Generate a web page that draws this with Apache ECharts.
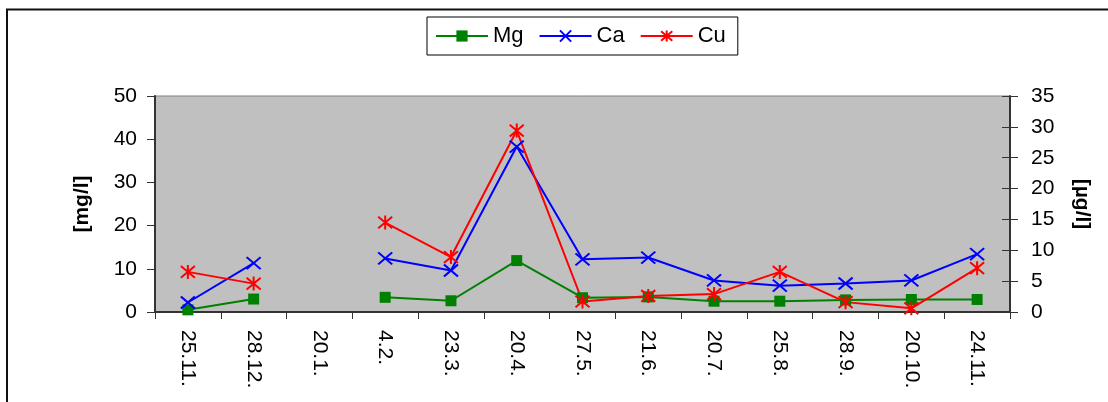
<!DOCTYPE html>
<html>
<head>
<meta charset="utf-8">
<script src="https://cdn.jsdelivr.net/npm/echarts@6/dist/echarts.min.js"></script>
<style>html,body{margin:0;padding:0;background:#fff}#c{width:1108px;height:402px}</style>
</head>
<body>
<div id="c"></div>
<script>
const categories = ['25.11.', '28.12.', '20.1.', '4.2.', '23.3.', '20.4.', '27.5.', '21.6.', '20.7.', '25.8.', '28.9.', '20.10.', '24.11.'];
const mg = [0.5, 3.0, null, 3.4, 2.6, 11.9, 3.3, 3.5, 2.5, 2.5, 2.8, 2.9, 2.9];
const ca = [2.2, 11.3, null, 12.4, 9.6, 38.3, 12.2, 12.6, 7.3, 6.1, 6.6, 7.3, 13.4];
const cu = [6.5, 4.6, null, 14.5, 8.9, 29.4, 1.7, 2.6, 2.9, 6.5, 1.6, 0.6, 7.1];
const leftTicks = {min: 0, max: 50, interval: 10};
const rightTicks = {min: 0, max: 35, interval: 5};

const FONT = 'Liberation Sans, Arial, sans-serif';
const xPath = 'path://M0,0L12,10M12,0L0,10';
const starPath = 'path://M0,1L12,11M12,1L0,11M6,0L6,12';
const chart = echarts.init(document.getElementById('c'), null, {renderer: 'canvas'});
chart.setOption({
  animation: false,
  backgroundColor: '#fff',
  textStyle: {fontFamily: FONT},
  graphic: [{
    type: 'rect', silent: true, z: -1,
    shape: {x: 7, y: 9.5, width: 1200, height: 500},
    style: {fill: 'none', stroke: '#111', lineWidth: 2}
  }],
  legend: {
    left: 427, top: 17,
    padding: [8, 12, 8, 8],
    itemWidth: 52, itemHeight: 14, itemGap: 15,
    borderColor: '#000', borderWidth: 1, backgroundColor: '#fff',
    textStyle: {fontSize: 22, color: '#000', fontFamily: FONT},
    data: ['Mg', 'Ca', 'Cu']
  },
  grid: {
    left: 155, right: 98, top: 96, bottom: 90,
    show: true, backgroundColor: '#c0c0c0', borderColor: '#808080', borderWidth: 1
  },
  xAxis: {
    type: 'category', data: categories, boundaryGap: true,
    axisLine: {lineStyle: {color: '#333', width: 2}},
    axisTick: {show: true, length: 7, alignWithLabel: false, lineStyle: {color: '#333', width: 1}},
    axisLabel: {rotate: -90, margin: 18, fontSize: 21, color: '#000', fontFamily: FONT, interval: 0},
    splitLine: {show: false}
  },
  yAxis: [{
    type: 'value', position: 'left',
    min: leftTicks.min, max: leftTicks.max, interval: leftTicks.interval,
    name: '[mg/l]', nameLocation: 'middle', nameGap: 62,
    nameTextStyle: {fontSize: 21, fontWeight: 'bold', color: '#000', fontFamily: FONT},
    axisLine: {show: true, lineStyle: {color: '#333', width: 2}},
    axisTick: {show: true, length: 8, lineStyle: {color: '#333'}},
    axisLabel: {margin: 18, fontSize: 21, color: '#000', fontFamily: FONT},
    splitLine: {show: false}
  }, {
    type: 'value', position: 'right',
    min: rightTicks.min, max: rightTicks.max, interval: rightTicks.interval,
    name: '[µg/l]', nameLocation: 'middle', nameGap: 61, nameRotate: -90,
    nameTextStyle: {fontSize: 21, fontWeight: 'bold', color: '#000', fontFamily: FONT},
    axisLine: {show: true, lineStyle: {color: '#333', width: 2}},
    axisTick: {show: true, length: 8, lineStyle: {color: '#333'}},
    axisLabel: {margin: 21, fontSize: 21, color: '#000', fontFamily: FONT},
    splitLine: {show: false}
  }, {
    type: 'value', position: 'right',
    min: rightTicks.min, max: rightTicks.max, interval: rightTicks.interval,
    axisLine: {show: false},
    axisTick: {show: true, inside: true, length: 8, lineStyle: {color: '#333'}},
    axisLabel: {show: false},
    splitLine: {show: false}
  }],
  series: [{
    name: 'Mg', type: 'line', yAxisIndex: 0, data: mg, connectNulls: false,
    symbol: 'rect', symbolSize: 11, showAllSymbol: true,
    lineStyle: {color: '#008000', width: 2},
    itemStyle: {color: '#008000'}
  }, {
    name: 'Ca', type: 'line', yAxisIndex: 0, data: ca, connectNulls: false,
    symbol: xPath, symbolSize: [14, 12], showAllSymbol: true,
    lineStyle: {color: '#0000ff', width: 2},
    itemStyle: {color: '#0000ff', borderColor: '#0000ff', borderWidth: 2}
  }, {
    name: 'Cu', type: 'line', yAxisIndex: 1, data: cu, connectNulls: false,
    symbol: starPath, symbolSize: 14, showAllSymbol: true,
    lineStyle: {color: '#ff0000', width: 2},
    itemStyle: {color: '#ff0000', borderColor: '#ff0000', borderWidth: 2}
  }]
});
</script>
</body>
</html>
